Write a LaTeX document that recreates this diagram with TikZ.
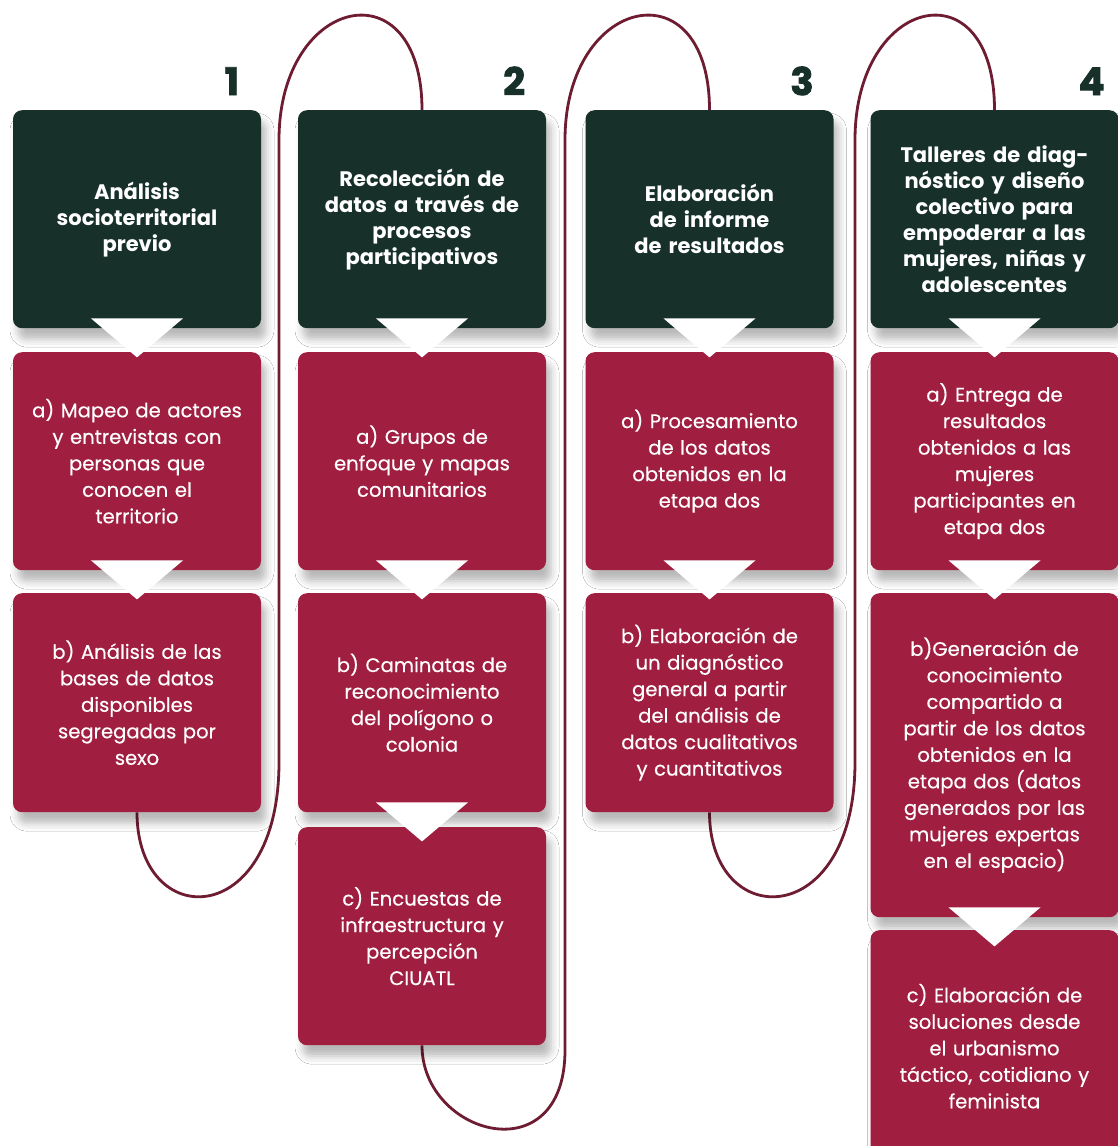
\documentclass[tikz,border=0pt]{standalone}
\usepackage{fontspec}
\setmainfont{Poppins}[UprightFeatures={FakeBold=0.4}]
\newfontfamily\numfont{Poppins}[BoldFeatures={FakeBold=2.5}]
\usetikzlibrary{calc, shadows.blur, backgrounds}
\definecolor{headgreen}{HTML}{17312A}
\definecolor{boxred}{HTML}{A01F40}
\definecolor{loopred}{HTML}{6E1C32}

\begin{document}
\begin{tikzpicture}[x=1pt, y=-1pt,
    card/.style={anchor=north, minimum width=248pt, text width=240pt, align=center, inner sep=0pt,
        rounded corners=9pt, text=white,
        blur shadow={shadow xshift=5pt, shadow yshift=-11pt, shadow blur radius=8pt, shadow opacity=28}},
    head/.style={card, fill=headgreen, font=\bfseries\fontsize{21}{26}\selectfont},
    stepbox/.style={card, fill=boxred, font=\fontsize{19.6}{26.5}\selectfont},
    num/.style={anchor=base east, text=headgreen, inner sep=0pt,
        font=\numfont\bfseries\fontsize{38}{38}\selectfont},
    loopline/.style={loopred, line width=2.8pt},
    pointer/.style={fill=white}]

    \useasboundingbox (0,0) rectangle (1118,1146);
    \clip (0,0) rectangle (1118,1146);

    % stage 1
    \node[head, minimum height=218pt] (h1) at (137,110) {An\'alisis\\socioterritorial\\previo};
    \node[stepbox, minimum height=218pt] (a1) at (137,352) {a) Mapeo de actores\\y entrevistas con\\personas que\\conocen el\\territorio};
    \node[stepbox, minimum height=219pt] (b1) at (137,593) {b) An\'alisis de las\\bases de datos\\disponibles\\segregadas por\\sexo};

    % stage 2
    \node[head, minimum height=218pt] (h2) at (422,110) {Recolecci\'on de\\datos a trav\'es de\\procesos\\participativos};
    \node[stepbox, minimum height=218pt] (a2) at (422,352) {a) Grupos de\\enfoque y mapas\\comunitarios};
    \node[stepbox, minimum height=219pt] (b2) at (422,593) {b) Caminatas de\\reconocimiento\\del pol\'igono o\\colonia};
    \node[stepbox, minimum height=218pt] (c2) at (422,827) {c) Encuestas de\\infraestructura y\\percepci\'on\\CIUATL};

    % stage 3
    \node[head, minimum height=218pt] (h3) at (709.5,110) {Elaboraci\'on\\de informe\\de resultados};
    \node[stepbox, minimum height=218pt] (a3) at (709.5,352) {a) Procesamiento\\de los datos\\obtenidos en la\\etapa dos};
    \node[stepbox, minimum height=219pt] (b3) at (709.5,593) {b) Elaboraci\'on de\\un diagn\'ostico\\general a partir\\del an\'alisis de\\datos cualitativos\\y cuantitativos};

    % stage 4
    \node[head, minimum height=218pt] (h4) at (994.5,110) {Talleres de diag-\\n\'ostico y dise\~no\\colectivo para\\empoderar a las\\mujeres, ni\~nas y\\adolescentes};
    \node[stepbox, minimum height=218pt] (a4) at (994.5,352) {a) Entrega de\\resultados\\obtenidos a las\\mujeres\\participantes en\\etapa dos};
    \node[stepbox, minimum height=324pt] (b4) at (994.5,593) {b)Generaci\'on de\\conocimiento\\compartido a\\partir de los datos\\obtenidos en la\\etapa dos (datos\\generados por las\\mujeres expertas\\en el espacio)};
    \node[stepbox, minimum height=232pt] (c4) at (994.5,930) {c) Elaboraci\'on de\\soluciones desde\\el urbanismo\\t\'actico, cotidiano y\\feminista};

    % stage numbers
    \node[num] (n1) at ($(h1.north east)+(-22,-15)$) {1};
    \node[num] (n2) at ($(h2.north east)+(-21,-15)$) {2};
    \node[num] (n3) at ($(h3.north east)+(-20,-15)$) {3};
    \node[num] (n4) at ($(h4.north east)+(-14,-15)$) {4};

    % white pointers between boxes
    \foreach \n in {h1,a1,h2,a2,b2,h3,a3,h4,a4,b4}
        \fill[pointer] ($(\n.south)+(-46,-10)$) -- ($(\n.south)+(46,-10)$) -- ($(\n.south)+(0,29)$) -- cycle;

    % the winding line behind the boxes
    \begin{pgfonlayer}{background}
        \fill[white] (0,0) rectangle (1118,1146);
        \draw[loopline] (b1.south) .. controls +(0,120) and +(0,170) .. (279,762) -- (279,140)
            .. controls +(0,-145) and +(0,-145) .. (h2.north);
        \draw[loopline] (c2.south) .. controls +(0,90) and +(0,125) .. (565,1050) -- (565,140)
            .. controls +(0,-145) and +(0,-145) .. (h3.north);
        \draw[loopline] (b3.south) .. controls +(0,120) and +(0,170) .. (855,762) -- (855,140)
            .. controls +(0,-145) and +(0,-145) .. (h4.north);
    \end{pgfonlayer}
\end{tikzpicture}
\end{document}
